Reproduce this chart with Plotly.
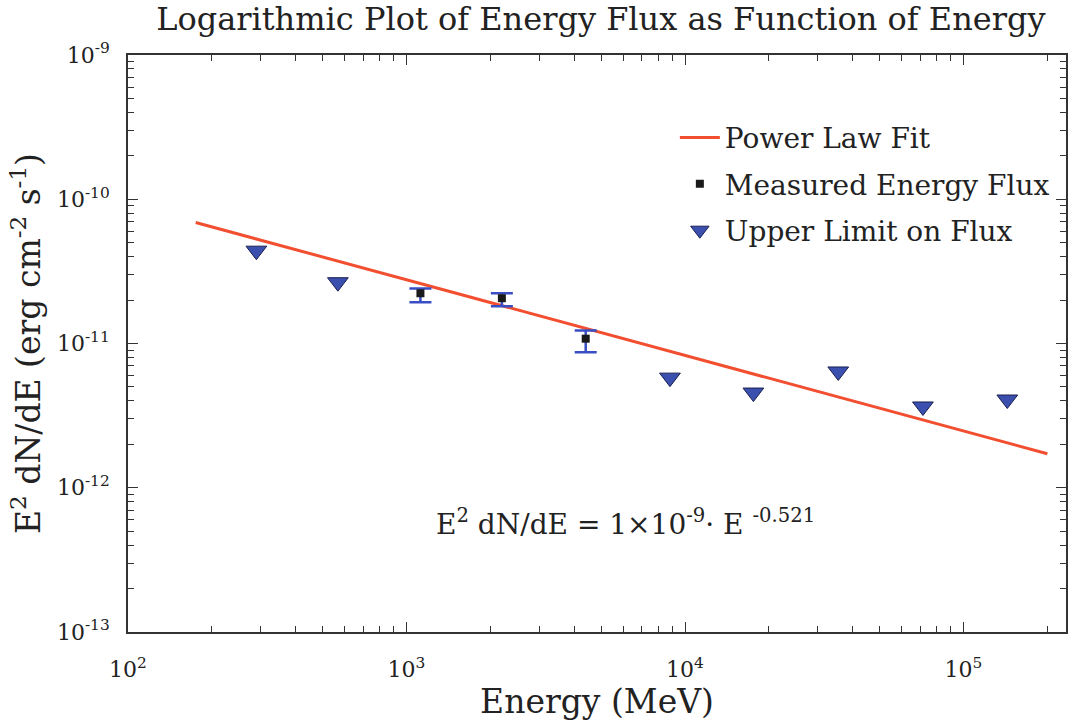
import plotly.graph_objects as go

# Power law fit line endpoints
fit_energy = [175, 2.0e5]
fit_flux = [6.9e-11, 1.72e-12]

# Measured energy flux points with error bounds
meas_energy = [1122, 2200, 4400]
meas_flux = [2.23e-11, 2.06e-11, 1.08e-11]
meas_upper = [2.41e-11, 2.23e-11, 1.23e-11]
meas_lower = [1.93e-11, 1.81e-11, 0.87e-11]

# Upper limits on flux
ul_energy = [289, 567, 8830, 17600, 35500, 71500, 143600]
ul_flux = [4.4e-11, 2.66e-11, 5.8e-12, 4.57e-12, 6.4e-12, 3.66e-12, 4.09e-12]

x_tickvals = [1e2, 1e3, 1e4, 1e5]
x_ticktext = ["10<sup>2</sup>", "10<sup>3</sup>", "10<sup>4</sup>", "10<sup>5</sup>"]
y_tickvals = [1e-13, 1e-12, 1e-11, 1e-10, 1e-9]
y_ticktext = ["10<sup>-13</sup>", "10<sup>-12</sup>", "10<sup>-11</sup>", "10<sup>-10</sup>", "10<sup>-9</sup>"]

x_minor = [m * 10 ** d for d in range(2, 6) for m in range(2, 10)]
y_minor = [m * 10.0 ** d for d in range(-13, -9) for m in range(2, 10)]

SERIF = "DejaVu Serif, Liberation Serif, serif"
INK = "#222222"
AX = "#333333"
X_RANGE = [2, 5.368]
Y_RANGE = [-13, -9]

fig = go.Figure()

# invisible carrier trace for the minor-tick overlay axes
fig.add_trace(go.Scatter(
    x=fit_energy, y=fit_flux, mode="lines", xaxis="x2", yaxis="y2",
    line=dict(width=0), opacity=0, showlegend=False, hoverinfo="skip",
))

fig.add_trace(go.Scatter(
    x=fit_energy, y=fit_flux, mode="lines", name="Power Law Fit",
    line=dict(color="#f24e30", width=3), legendgroup="a",
))

fig.add_trace(go.Scatter(
    x=meas_energy, y=meas_flux, mode="markers", name="Measured Energy Flux",
    marker=dict(symbol="square", size=8, color="#1a1a1a"),
    error_y=dict(type="data", symmetric=False,
                 array=[u - v for u, v in zip(meas_upper, meas_flux)],
                 arrayminus=[v - l for v, l in zip(meas_flux, meas_lower)],
                 color="#3a4ec4", thickness=2.5, width=11),
    legendgroup="b",
))

fig.add_trace(go.Scatter(
    x=ul_energy, y=ul_flux, mode="markers", name="Upper Limit on Flux",
    marker=dict(symbol="triangle-down", size=18, color="#3a4fae",
                line=dict(color="#1a2050", width=1)),
    legendgroup="c",
))

fig.add_annotation(
    x=0.53, y=0.155, xref="paper", yref="paper", showarrow=False,
    text="E<sup>2</sup> dN/dE = 1×10<sup>-9</sup>· E <sup>-0.521</sup>",
    font=dict(family=SERIF, size=28, color=INK),
)

axis_common = dict(
    type="log", showgrid=False, zeroline=False,
    showline=True, linecolor=AX, linewidth=1.8, mirror="allticks",
    ticks="inside", ticklen=10, tickwidth=1.3, tickcolor=AX,
    tickfont=dict(family=SERIF, size=22, color=INK),
)

fig.update_layout(
    xaxis=dict(
        **axis_common, range=X_RANGE, tickmode="array",
        tickvals=x_tickvals, ticktext=x_ticktext, ticklabelstandoff=17,
        title=dict(text="Energy (MeV)", font=dict(family=SERIF, size=33, color=INK), standoff=2),
    ),
    yaxis=dict(
        **axis_common, range=Y_RANGE, tickmode="array",
        tickvals=y_tickvals, ticktext=y_ticktext, ticklabelstandoff=12,
        title=dict(text="E<sup>2</sup> dN/dE (erg cm<sup>-2</sup> s<sup>-1</sup>)",
                   font=dict(family=SERIF, size=33, color=INK), standoff=6),
    ),
    xaxis2=dict(
        type="log", range=X_RANGE, overlaying="x", side="bottom", anchor="y2",
        showgrid=False, zeroline=False, showline=False, mirror="allticks",
        tickmode="array", tickvals=x_minor, ticks="inside", ticklen=6,
        tickwidth=1.1, tickcolor=AX, showticklabels=False,
    ),
    yaxis2=dict(
        type="log", range=Y_RANGE, overlaying="y", side="left", anchor="x2",
        showgrid=False, zeroline=False, showline=False, mirror="allticks",
        tickmode="array", tickvals=y_minor, ticks="inside", ticklen=6,
        tickwidth=1.1, tickcolor=AX, showticklabels=False,
    ),
    width=1073, height=725,
    margin=dict(l=128, r=5, t=55, b=93),
    paper_bgcolor="white", plot_bgcolor="white",
    title=dict(text="Logarithmic Plot of Energy Flux as Function of Energy",
               x=0.56, xanchor="center", yref="container", y=0.99, yanchor="top",
               font=dict(family=SERIF, size=32, color=INK)),
    legend=dict(x=0.583, y=0.9, xanchor="left", yanchor="top",
                font=dict(family=SERIF, size=28, color=INK),
                bgcolor="rgba(0,0,0,0)", tracegroupgap=7, itemwidth=40),
    showlegend=True,
)

fig.write_html("out.html")
